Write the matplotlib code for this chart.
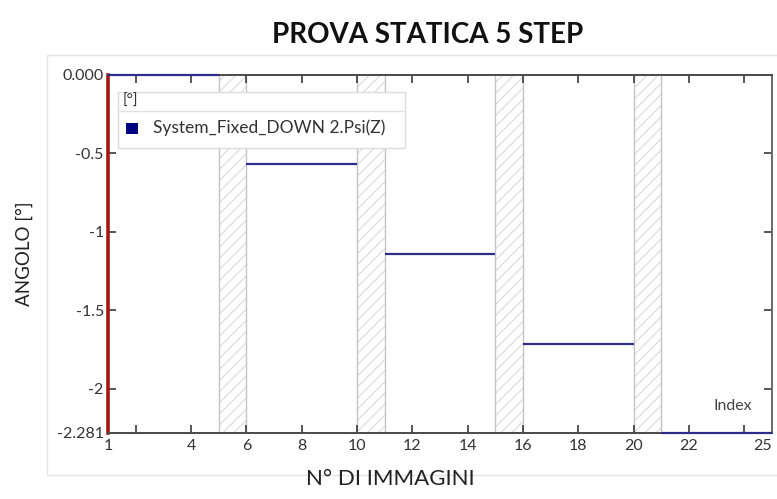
import matplotlib
matplotlib.use("Agg")
import matplotlib.pyplot as plt
from matplotlib.patches import Rectangle
from matplotlib.lines import Line2D

# Five static steps: image index range and measured angle for each
step_start = [1, 6, 11, 16, 21]
step_end = [5, 10, 15, 20, 25]
step_angle = [0.000, -0.570, -1.140, -1.711, -2.281]

x_tick_labels = [1, 4, 6, 8, 10, 12, 14, 16, 18, 20, 22, 25]
x_tick_marks = list(range(2, 25, 2))
y_tick_labels = [0.000, -0.5, -1, -1.5, -2, -2.281]
y_tick_text = ["0.000", "-0.5", "-1", "-1.5", "-2", "-2.281"]

series_name = "System_Fixed_DOWN 2.Psi(Z)"
unit_label = "[°]"

W, H = 777, 499
fig = plt.figure(figsize=(W / 100, H / 100), dpi=100)
fig.patch.set_facecolor("white")
plt.rcParams["font.family"] = ["Lato", "DejaVu Sans"]
plt.rcParams["hatch.linewidth"] = 0.8

def fx(px):
    return px / W

def fy(py):
    return 1 - py / H

# faint outer frame of the chart panel
fig.patches.append(Rectangle((fx(47), fy(475)), fx(800) - fx(47), fy(55) - fy(475),
                             transform=fig.transFigure, fill=False,
                             edgecolor="#e4e4e4", linewidth=1.0, zorder=0))

ax = fig.add_axes([fx(108), fy(433), fx(772) - fx(108), fy(75) - fy(433)])
ax.set_xlim(1, 25)
ax.set_ylim(step_angle[-1], 0.0)
ax.xaxis.remove_overlapping_locs = False

# hatched transitions between consecutive steps
for a, b in zip(step_end[:-1], step_start[1:]):
    ax.axvspan(a, b, facecolor="white", edgecolor="#dadada", hatch="///",
               linewidth=0, zorder=1)
    for xv in (a, b):
        ax.axvline(xv, color="#c4c4c4", linewidth=1.0, zorder=1.5)

# step plateaus
for s, e, v in zip(step_start, step_end, step_angle):
    ax.plot([s, e], [v, v], color="#2e2e8a", linewidth=1.6,
            solid_capstyle="butt", zorder=4, clip_on=False)

# spines
for side in ("top", "bottom"):
    ax.spines[side].set_color("#4a4a4a")
    ax.spines[side].set_linewidth(1.4)
ax.spines["right"].set_color("#6a6a6a")
ax.spines["right"].set_linewidth(1.4)
ax.spines["left"].set_color("#a01818")
ax.spines["left"].set_linewidth(2.6)
for sp in ax.spines.values():
    sp.set_zorder(3)

# x ticks: marks every 2 on both edges, labels below
ax.set_xticks(x_tick_marks)
ax.set_xticklabels([])
ax.tick_params(axis="x", which="major", direction="in", length=6, width=1.2,
               color="#3a3a3a", top=True, bottom=True)
ax.set_xticks(x_tick_labels, minor=True)
ax.set_xticklabels([str(v) for v in x_tick_labels], minor=True)
ax.tick_params(axis="x", which="minor", length=0, pad=4, labelsize=11.5,
               labelcolor="#333333")
ax.get_xticklabels(minor=True)[-1].set_horizontalalignment("right")

# y ticks
ax.set_yticks(y_tick_labels)
ax.set_yticklabels(y_tick_text)
ax.tick_params(axis="y", direction="in", length=6, width=1.2, color="#3a3a3a",
               left=True, right=True, pad=3, labelsize=11.5, labelcolor="#333333")
for t in (ax.yaxis.get_major_ticks()[0], ax.yaxis.get_major_ticks()[-1]):
    t.tick1line.set_visible(False)
    t.tick2line.set_visible(False)

ax.text(0.97, 0.075, "Index", transform=ax.transAxes, ha="right", va="center",
        fontsize=11.5, color="#444444")

# legend panel
lx0, lx1, ly0, ly1, lsep = 118, 405, 92, 148, 111
fig.patches.append(Rectangle((fx(lx0), fy(ly1)), fx(lx1) - fx(lx0), fy(ly0) - fy(ly1),
                             transform=fig.transFigure, facecolor="white",
                             edgecolor="#dcdcdc", linewidth=1.0, zorder=5))
fig.lines.append(Line2D([fx(lx0), fx(lx1)], [fy(lsep), fy(lsep)],
                        transform=fig.transFigure, color="#e2e2e2",
                        linewidth=1.0, zorder=6))
fig.text(fx(123), fy(101), unit_label, fontsize=11, color="#333333",
         ha="left", va="center", zorder=7)
fig.patches.append(Rectangle((fx(126), fy(134)), fx(12), fy(0) - fy(11),
                             transform=fig.transFigure, facecolor="#000080",
                             edgecolor="none", zorder=7))
fig.text(fx(153), fy(128), series_name, fontsize=12.5, color="#333333",
         ha="left", va="center", zorder=7)

fig.text(fx(428), fy(35), "PROVA STATICA 5 STEP", fontsize=20, fontweight="bold",
         ha="center", va="center", color="#111111")
fig.text(fx(24), fy(254), "ANGOLO [°]", fontsize=13.5, rotation=90,
         ha="center", va="center", color="#222222")
fig.text(fx(390), fy(479), "N° DI IMMAGINI", fontsize=16,
         ha="center", va="center", color="#222222")

fig.savefig("out.png", dpi=100)
